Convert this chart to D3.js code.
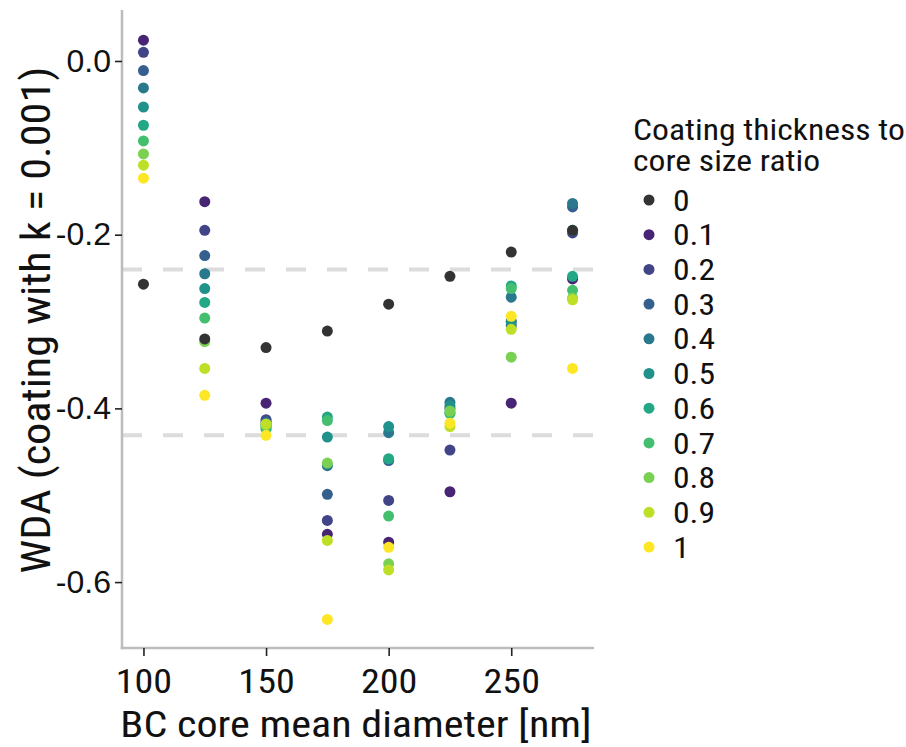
<!DOCTYPE html>
<html><head><meta charset="utf-8">
<script src="https://cdn.jsdelivr.net/npm/d3@7"></script>
<style>
body{margin:0;background:#fff;}
.cond{font-family:"Roboto Condensed","Liberation Sans Narrow","DejaVu Sans Condensed",Roboto,sans-serif;}
</style></head>
<body><svg id="c" width="906" height="747"></svg>
<script>
const diameters = [100, 125, 150, 175, 200, 225, 250, 275];
const ratios = ["0", "0.1", "0.2", "0.3", "0.4", "0.5", "0.6", "0.7", "0.8", "0.9", "1"];
const wda_0   = [-0.257, -0.320, -0.330, -0.311, -0.280, -0.248, -0.220, -0.195];
const wda_0_1 = [ 0.024, -0.162, -0.394, -0.545, -0.554, -0.496, -0.394, -0.251];
const wda_0_2 = [ 0.010, -0.195, -0.413, -0.529, -0.506, -0.448, -0.300, -0.198];
const wda_0_3 = [-0.011, -0.224, -0.415, -0.499, -0.460, -0.400, -0.305, -0.168];
const wda_0_4 = [-0.031, -0.245, -0.418, -0.466, -0.428, -0.393, -0.272, -0.164];
const wda_0_5 = [-0.053, -0.262, -0.420, -0.433, -0.421, -0.397, -0.300, -0.195];
const wda_0_6 = [-0.074, -0.278, -0.424, -0.410, -0.458, -0.405, -0.259, -0.248];
const wda_0_7 = [-0.092, -0.296, -0.422, -0.414, -0.524, -0.406, -0.262, -0.264];
const wda_0_8 = [-0.107, -0.323, -0.419, -0.463, -0.579, -0.403, -0.341, -0.273];
const wda_0_9 = [-0.120, -0.354, -0.418, -0.552, -0.586, -0.421, -0.309, -0.275];
const wda_1   = [-0.135, -0.385, -0.431, -0.643, -0.560, -0.417, -0.294, -0.354];
const seriesValues = [wda_0, wda_0_1, wda_0_2, wda_0_3, wda_0_4, wda_0_5, wda_0_6, wda_0_7, wda_0_8, wda_0_9, wda_1];
const refLines = [-0.240, -0.431];
const xTicks = [100, 150, 200, 250];
const yTicks = [0, -0.2, -0.4, -0.6];

const svg = d3.select("#c");
const L = 122, R = 594, T = 10, B = 648;
const x = d3.scaleLinear().domain([91.25, 283.75]).range([L, R]);
const y = d3.scaleLinear().domain([0.0587, -0.6759]).range([T, B]);
const color = d3.scaleOrdinal().domain(ratios)
  .range(ratios.map((r, i) => i === 0 ? "#333333" : d3.interpolateViridis((i) / 10)));

// reference dashed lines
svg.selectAll(".ref").data(refLines).enter().append("line")
  .attr("x1", L).attr("x2", R).attr("y1", d => y(d)).attr("y2", d => y(d))
  .attr("stroke", "#dcdcdc").attr("stroke-width", 4).attr("stroke-dasharray", "20,21");

// points: ratios 0.1..1 first, then 0 on top
const pts = [];
const order = ratios.map((r, i) => i).slice(1).concat([0]);
order.forEach(i => diameters.forEach((d, j) => pts.push({d, v: seriesValues[i][j], r: ratios[i]})));
svg.append("g").selectAll("circle").data(pts).enter().append("circle")
  .attr("cx", p => x(p.d)).attr("cy", p => y(p.v)).attr("r", 5.5)
  .attr("fill", p => color(p.r));

// axes
const xAxis = svg.append("g").attr("transform", `translate(0,${B})`)
  .call(d3.axisBottom(x).tickValues(xTicks).tickSize(8).tickPadding(13).tickSizeOuter(0));
xAxis.select(".domain").attr("stroke", "#bdbdbd").attr("stroke-width", 2.5)
  .attr("d", `M${L - 1.25},0H${R}`);
xAxis.selectAll(".tick line").attr("stroke", "#222").attr("stroke-width", 1.6);
xAxis.attr("font-family", null).attr("font-size", null);
xAxis.selectAll(".tick text").attr("class", "cond").attr("font-size", 34).attr("fill", "#111")
  .attr("dy", "0.71em").attr("transform", "scale(1.12,1)");

const yAxis = svg.append("g").attr("transform", `translate(${L},0)`)
  .call(d3.axisLeft(y).tickValues(yTicks).tickSize(7).tickPadding(4).tickSizeOuter(0)
    .tickFormat(d => d.toFixed(1)));
yAxis.select(".domain").attr("stroke", "#bdbdbd").attr("stroke-width", 2.5)
  .attr("d", `M0,${T}V${B + 1.25}`);
yAxis.selectAll(".tick line").attr("stroke", "#222").attr("stroke-width", 1.6);
yAxis.attr("font-family", "'Liberation Sans',Arial,sans-serif").attr("font-size", 32);
yAxis.selectAll(".tick text").attr("fill", "#111");

// axis titles
svg.append("text").attr("class", "cond")
  .attr("transform", `translate(${(L + R) / 2 - 2},737) scale(1.14,1)`)
  .attr("text-anchor", "middle").attr("font-size", 37).attr("fill", "#111")
  .text("BC core mean diameter [nm]");
svg.append("text").attr("class", "cond")
  .attr("transform", `translate(50,${(T + B) / 2 - 9}) rotate(-90) scale(1.08,1)`)
  .attr("text-anchor", "middle").attr("font-size", 41).attr("fill", "#111")
  .text("WDA (coating with k = 0.001)");

// legend
const lg = svg.append("g");
lg.append("text").attr("class", "cond").attr("transform", "translate(633,140) scale(1.16,1)")
  .attr("font-size", 29).attr("fill", "#111").text("Coating thickness to");
lg.append("text").attr("class", "cond").attr("transform", "translate(633,171) scale(1.16,1)")
  .attr("font-size", 29).attr("fill", "#111").text("core size ratio");
const items = lg.selectAll(".item").data(ratios).enter().append("g")
  .attr("transform", (d, i) => `translate(0,${200 + i * 34.7})`);
items.append("circle").attr("cx", 649).attr("cy", 0).attr("r", 5.5).attr("fill", d => color(d));
items.append("text").attr("class", "cond").attr("transform", "translate(673,0) scale(1.14,1)")
  .attr("dy", "0.36em").attr("font-size", 29.5).attr("fill", "#111").text(d => d);
</script></body></html>
